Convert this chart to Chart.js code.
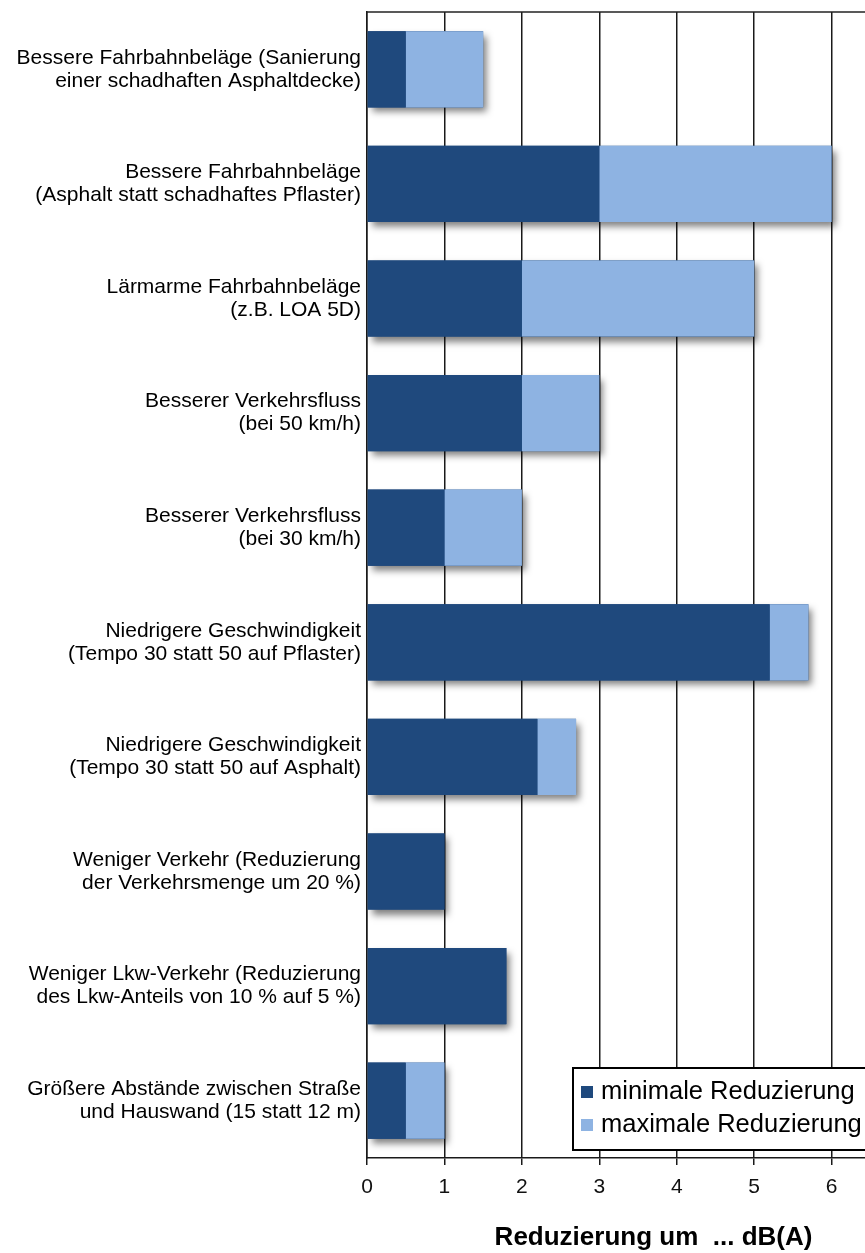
<!DOCTYPE html>
<html>
<head>
<meta charset="utf-8">
<script src="https://cdn.jsdelivr.net/npm/chart.js@4/dist/chart.umd.min.js"></script>
<style>
  html, body { margin: 0; padding: 0; background: #fff; overflow: hidden; }
  #wrap { width: 865px; height: 1253px; overflow: hidden; position: relative; }
  #box { width: 945px; height: 1253px; position: absolute; left: 0; top: 0; }
</style>
</head>
<body>
<div id="wrap"><div id="box"><canvas id="chart"></canvas></div></div>
<script>
const categories = [
  ['Bessere Fahrbahnbeläge (Sanierung', 'einer schadhaften Asphaltdecke)'],
  ['Bessere Fahrbahnbeläge', '(Asphalt statt schadhaftes Pflaster)'],
  ['Lärmarme Fahrbahnbeläge', '(z.B. LOA 5D)'],
  ['Besserer Verkehrsfluss', '(bei 50 km/h)'],
  ['Besserer Verkehrsfluss', '(bei 30 km/h)'],
  ['Niedrigere Geschwindigkeit', '(Tempo 30 statt 50 auf Pflaster)'],
  ['Niedrigere Geschwindigkeit', '(Tempo 30 statt 50 auf Asphalt)'],
  ['Weniger Verkehr (Reduzierung', 'der Verkehrsmenge um 20 %)'],
  ['Weniger Lkw-Verkehr (Reduzierung', 'des Lkw-Anteils von 10 % auf 5 %)'],
  ['Größere Abstände zwischen Straße', 'und Hauswand (15 statt 12 m)']
]
const minValues = [0.5, 3, 2, 2, 1, 5.2, 2.2, 1, 1.8, 0.5]
const maxValues = [1.5, 6, 5, 3, 2, 5.7, 2.7, 1, 1.8, 1]
const seriesLabels = ['minimale Reduzierung', 'maximale Reduzierung']
const xTicks = [0, 1, 2, 3, 4, 5, 6, 7]
const axisTitle = 'Reduzierung um  ... dB(A)'

const darkBlue = '#1f497d'
const lightBlue = '#8eb3e2'
const fontFamily = '"Liberation Sans", Arial, sans-serif'

// soft drop shadow behind each whole bar (both segments together)
const barShadow = {
  id: 'barShadow',
  beforeDatasetsDraw(chart) {
    const ctx = chart.ctx
    const metas = chart.getSortedVisibleDatasetMetas()
    ctx.save()
    ctx.shadowColor = 'rgba(0,0,0,0.5)'
    ctx.shadowBlur = 7
    ctx.shadowOffsetX = 4
    ctx.shadowOffsetY = 5
    ctx.fillStyle = darkBlue
    categories.forEach((c, i) => {
      let left = Infinity, right = -Infinity, top = 0, h = 0
      metas.forEach(meta => {
        const el = meta.data[i]
        if (!el) return
        left = Math.min(left, el.base, el.x)
        right = Math.max(right, el.base, el.x)
        top = el.y - el.height / 2
        h = el.height
      })
      if (right > left) ctx.fillRect(left, top, right - left, h)
    })
    ctx.restore()
  }
}

const frameAndLegend = {
  id: 'frameAndLegend',
  afterDraw(chart) {
    const { ctx, chartArea } = chart
    ctx.save()
    // top frame line
    ctx.strokeStyle = '#222'
    ctx.lineWidth = 1.5
    ctx.beginPath()
    ctx.moveTo(chartArea.left, chartArea.top)
    ctx.lineTo(chartArea.right, chartArea.top)
    ctx.stroke()

    // legend box inside plot, bottom right
    const left = chartArea.left + 206
    const bottom = chartArea.bottom - 8
    const top = bottom - 82
    const right = chartArea.right + 20
    ctx.fillStyle = '#fff'
    ctx.fillRect(left, top, right - left, bottom - top)
    ctx.strokeStyle = '#000'
    ctx.lineWidth = 2
    ctx.strokeRect(left, top, right - left, bottom - top)

    ctx.font = '25.5px ' + fontFamily
    ctx.textBaseline = 'middle'
    chart.data.datasets.forEach((ds, i) => {
      const y = top + 24 + i * 33
      ctx.fillStyle = ds.backgroundColor
      ctx.fillRect(left + 8, y - 6, 12, 12)
      ctx.fillStyle = '#000'
      ctx.fillText(ds.label, left + 28, y)
    })
    ctx.restore()
  }
}

new Chart(document.getElementById('chart'), {
  type: 'bar',
  data: {
    labels: categories,
    datasets: [
      {
        label: seriesLabels[0],
        data: minValues,
        backgroundColor: darkBlue,
        categoryPercentage: 1,
        barPercentage: 0.665
      },
      {
        label: seriesLabels[1],
        data: maxValues.map((v, i) => +(v - minValues[i]).toFixed(2)),
        backgroundColor: lightBlue,
        categoryPercentage: 1,
        barPercentage: 0.665
      }
    ]
  },
  options: {
    indexAxis: 'y',
    responsive: true,
    maintainAspectRatio: false,
    animation: false,
    layout: { padding: { top: 12, right: 5, left: 0, bottom: 0 } },
    plugins: {
      legend: { display: false },
      tooltip: { enabled: false }
    },
    scales: {
      x: {
        stacked: true,
        min: 0,
        max: 7.4,
        afterBuildTicks: (scale) => {
          scale.ticks = xTicks.map(v => ({ value: v }))
        },
        afterFit: (scale) => { scale.height = 95 },
        grid: { color: '#1a1a1a', lineWidth: 1.5, tickLength: 7, drawTicks: true },
        border: { display: true, color: '#1a1a1a', width: 1.5 },
        ticks: {
          color: '#111',
          padding: 10,
          font: { family: fontFamily, size: 21 }
        },
        title: {
          display: true,
          text: axisTitle,
          color: '#000',
          padding: { top: 0, bottom: 0 },
          font: { family: fontFamily, size: 26, weight: 'bold' }
        }
      },
      y: {
        stacked: true,
        afterFit: (scale) => {
          scale.width = 367
          scale.paddingTop = 0
          scale.paddingBottom = 0
        },
        grid: { display: true, color: 'transparent', drawTicks: false },
        border: { display: true, color: '#1a1a1a', width: 1.5 },
        ticks: {
          color: '#000',
          padding: 6,
          font: { family: fontFamily, size: 21, lineHeight: 1.1 }
        }
      }
    }
  },
  plugins: [barShadow, frameAndLegend]
})
</script>
</body>
</html>
